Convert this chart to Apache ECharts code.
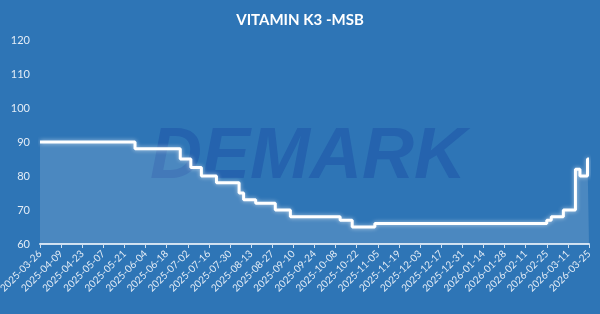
<!DOCTYPE html>
<html>
<head>
<meta charset="utf-8">
<script src="https://cdn.jsdelivr.net/npm/echarts@6/dist/echarts.min.js"></script>
<style>
html,body{margin:0;padding:0;background:#2E75B6;}
#c{width:600px;height:314px;}
</style>
</head>
<body>
<div id="c"></div>
<script>
// Tick labels along the x axis (every 14 days)
const tickLabels = ['2025-03-26','2025-04-09','2025-04-23','2025-05-07','2025-05-21','2025-06-04','2025-06-18','2025-07-02','2025-07-16','2025-07-30','2025-08-13','2025-08-27','2025-09-10','2025-09-24','2025-10-08','2025-10-22','2025-11-05','2025-11-19','2025-12-03','2025-12-17','2025-12-31','2026-01-14','2026-01-28','2026-02-11','2026-02-25','2026-03-11','2026-03-25'];
// Price change dates and the price from that date on
const changeDates = ['2025-03-26','2025-05-28','2025-06-27','2025-07-04','2025-07-11','2025-07-21','2025-08-05','2025-08-08','2025-08-16','2025-08-29','2025-09-08','2025-10-11','2025-10-19','2025-11-03','2026-02-25','2026-02-28','2026-03-08','2026-03-16','2026-03-19','2026-03-24','2026-03-25'];
const changeValues = [90,88,85,82.5,80,78,75,73,72,70,68,67,65,66,67,68,70,82,80,85,85];
const yTicks = [60,70,80,90,100,110,120];

const startMs = Date.UTC(2025,2,26);
function dayIndex(s){const p=s.split('-').map(Number);return Math.round((Date.UTC(p[0],p[1]-1,p[2])-startMs)/86400000);}
const seriesData = changeDates.map((d,i)=>[dayIndex(d), changeValues[i]]);

const chart = echarts.init(document.getElementById('c'), null, {renderer:'canvas'});
chart.setOption({
  backgroundColor:'#2E75B6',
  animation:false,
  title:{text:'VITAMIN K3 -MSB',left:'center',top:8,textStyle:{color:'#ffffff',fontFamily:'Lato',fontWeight:'bold',fontSize:15}},
  graphic:[{type:'text',left:150,top:122,z:0,style:{text:'DEMARK',fill:'#2563AE',font:'italic bold 72px "Liberation Sans"'}}],
  grid:{left:40,right:11,top:40,bottom:70,containLabel:false,outerBoundsMode:'none'},
  xAxis:{type:'value',min:0,max:364,interval:14,
    axisLine:{show:true,lineStyle:{color:'#cddff0',width:2}},
    axisTick:{show:true,length:4,lineStyle:{color:'#cddff0'}},
    splitLine:{show:false},
    axisLabel:{rotate:45,color:'#e3ecf6',fontFamily:'Lato',fontSize:10,margin:8,hideOverlap:false,
      formatter:v=>tickLabels[Math.round(v/14)]||''}},
  yAxis:{type:'value',min:60,max:120,interval:10,
    axisLine:{show:false},axisTick:{show:false},splitLine:{show:false},
    axisLabel:{color:'#e3ecf6',fontFamily:'Lato',fontSize:11,margin:10,
      formatter:v=>yTicks.indexOf(v)>=0?String(v):''}},
  series:[{type:'line',step:'end',data:seriesData,symbol:'none',z:3,
    lineStyle:{color:'#ffffff',width:3,shadowColor:'rgba(255,255,255,0.6)',shadowBlur:4},
    areaStyle:{origin:'start',color:'rgba(255,255,255,0.2)'}}]
});
</script>
</body>
</html>
